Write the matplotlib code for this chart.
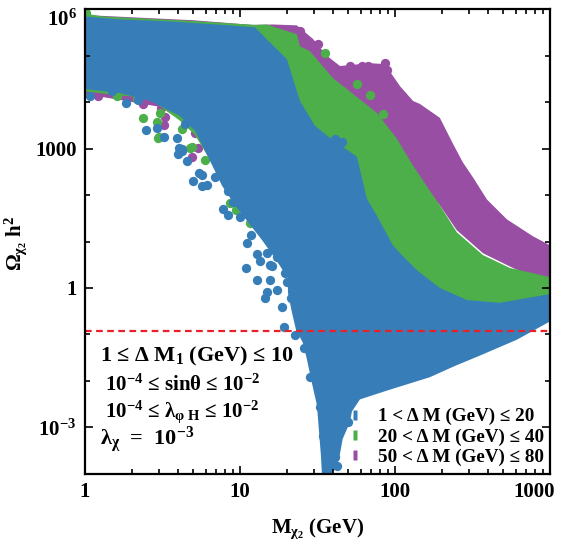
import matplotlib
matplotlib.use("Agg")
import matplotlib.pyplot as plt
from matplotlib.lines import Line2D
from matplotlib.ticker import FixedLocator, FixedFormatter, NullFormatter
from matplotlib.transforms import ScaledTranslation

plt.rcParams["font.family"] = ["Liberation Serif", "DejaVu Serif"]
plt.rcParams["font.weight"] = "bold"
plt.rcParams["axes.labelweight"] = "bold"
plt.rcParams["mathtext.fontset"] = "custom"
plt.rcParams["mathtext.rm"] = "Liberation Serif:bold"
plt.rcParams["mathtext.it"] = "Liberation Serif:bold"
plt.rcParams["mathtext.bf"] = "Liberation Serif:bold"

blue = "#377eb8"
green = "#4daf4a"
purple = "#984ea3"

# dense cores of each scan, outline (M in GeV, Omega h^2)
blue_core_m = [1, 1.68, 3.53, 8.6, 12.5, 14.9, 20.1, 24.4, 30.5, 38.1, 56.9, 65.9, 76.5, 97, 108, 139, 195,
               292, 476, 1000, 1000, 612, 353, 244, 168, 93, 59.5, 52.8, 51.3, 46, 43.5, 39.2, 33.8, 33.3,
               32.3, 31.4, 29.1, 27, 25.5, 23, 21.6, 20.4, 20.4, 16.8, 13.9, 11.3, 9.3, 7.65, 6.4, 5.13,
               4.1, 2.63, 1.68, 1]
blue_core_om = [7.0e5, 6.05e5, 5.48e5, 4.5e5, 4.08e5, 2.26e5, 8.4e4, 1.06e4, 3100, 1700, 670, 84, 36, 8.3,
                5.6, 2.4, 1.0, 0.55, 0.48, 0.74, 0.19, 0.077, 0.035, 0.021, 0.012, 0.0065, 0.004, 0.0022,
                0.0013, 0.00056, 0.0002, 0.0001, 0.0001, 0.00025, 0.0009, 0.003, 0.0092, 0.03, 0.066,
                0.126, 0.31, 0.8, 1.64, 4.4, 10.7, 25.9, 60, 161, 551, 2420, 5060, 1.06e4, 1.57e4, 1.92e4]

green_core_m = [1, 1.3, 5, 12.5, 14.9, 23.3, 24.4, 28.3, 39.8, 56.9, 76.5, 103, 131, 161, 195, 251, 370, 552,
                1000, 1000, 400, 150, 80, 40, 20, 10, 6.4, 5.1, 4.1, 2.6, 1]
green_core_om = [8.1e5, 7.0e5, 5.6e5, 4.6e5, 4.7e5, 2.9e5, 1.6e5, 1.25e5, 3.3e4, 1.29e4, 5870, 1630, 430, 153,
                 60, 15.8, 5.1, 2.7, 1.72, 0.5, 0.4, 1.0, 10, 300, 1000, 80, 600, 2000, 4000, 1.2e4, 1.7e4]

purple_core_m = [1, 5, 12, 16.3, 23.3, 29.6, 36.4, 44.2, 69, 86, 108, 131, 145, 195, 237, 275, 319, 393, 528,
                 777, 1000, 1000, 700, 552, 370, 251, 195, 100, 30, 8, 5, 3, 1]
purple_core_om = [7.5e5, 5.8e5, 4.6e5, 4.7e5, 4.5e5, 2.3e5, 1e5, 6e4, 6.9e4, 6.6e4, 2.2e4, 1.06e4, 9150, 4600,
                  1270, 500, 240, 80, 30, 13, 8.3, 1.5, 2.0, 2.9, 5.6, 17.5, 60, 800, 3000, 1000, 3000, 8000,
                  1.5e4]

# isolated points outside the cores
blue_pts_m = [1.08, 1.84, 2.48, 2.91, 3.23, 3.92, 4.22, 4.04, 4.42, 3.43, 4.97, 5.44, 4.55, 4.22, 5.69, 6.12,
              7.77, 8.37, 10, 11.1, 12.9, 13.5, 10.9, 12.9, 14.9, 14.5, 15.6, 17.3, 20.1, 18.7, 19.2, 22.6,
              28.3, 32.8, 35.3, 34.3, 38.1, 36.4, 37, 41, 42.3, 49.7, 47.6, 38.1, 45.5, 41.0, 1.5, 2.2,
              6.9, 9.0, 11.8, 16.0, 21.5, 26.0, 30.0,
              3.98, 5.69, 14.9, 17.3, 15.6, 19.5, 6.4, 7.4, 8.0, 9.5, 8.4]
blue_pts_om = [1.36e4, 9600, 2540, 2800, 1800, 1710, 995, 1050, 3410, 9150, 205, 305, 551, 902, 153, 161,
               49, 36.6, 33, 9.2, 5.35, 3.79, 2.68, 1.48, 0.82, 0.61, 1.48, 0.91, 1.34, 0.39, 0.146, 0.099,
               0.0124, 0.0028, 0.0017, 0.00064, 0.00056, 0.00039, 0.00021, 0.00023, 0.000147, 0.00129,
               0.0024, 0.00135, 1400, 1650, 1.7e4, 1.1e4, 240, 70, 14, 3.0, 0.6, 0.05, 0.02,
               760, 270, 5.6, 4.6, 3.1, 2.1, 900, 610, 390, 240, 125]

green_pts_m = [1.31, 1.61, 2.16, 2.37, 2.91, 3.0, 3.05, 2.96, 4.22, 4.76, 4.9, 6.22, 5.94, 7.43, 8.62, 8.62,
               11.6, 35.3, 56.9, 69, 83.7, 45.5, 1.03, 1.41, 2.75, 3.92, 4.76, 6.7, 1.02,
               9.5, 13.5, 18.1, 23.3]
green_pts_om = [2.01e4, 1.36e4, 1.17e4, 4590, 3770, 1800, 5870, 1710, 2670, 1050, 1100, 1050, 579, 430, 177,
                66, 24.7, 1.13e5, 2.45e4, 1.43e4, 5590, 1.74e4, 2.8e4, 1.92e4, 4.2e4, 3.3e4, 5.4e4, 4e4, 8.5e5,
                47, 89, 54, 15]

purple_pts_m = [1.21, 2.37, 3.09, 3.28, 3.23, 4.9, 5.13, 6.22, 5.36, 10.3, 11.6, 24.4, 31.9, 36.4, 51.3,
                61.2, 66.9, 86.1, 88.7, 65.9, 1.25, 2.1, 3.53, 5.52, 7.1, 21.6, 9.7]
purple_pts_om = [1.36e4, 9150, 7510, 4820, 3250, 671, 2190, 1890, 1050, 76.6, 54.2, 3.35e5, 1.76e5, 6.9e4,
                 5.96e4, 5.96e4, 5.96e4, 6.9e4, 4.89e4, 4.02e4, 2.8e4, 3.1e4, 1.92e4, 2.8e4, 1.5e4, 47, 430]

relic = 0.12
labels = ["1 < Δ M (GeV) ≤ 20", "20 < Δ M (GeV) ≤ 40", "50 < Δ M (GeV) ≤ 80"]

fig = plt.figure(figsize=(5.74, 5.44), dpi=100)
ax = fig.add_axes([0.148, 0.129, 0.810, 0.854])
ax.set_xscale("log")
ax.set_yscale("log")

ms = 45
ax.fill(purple_core_m, purple_core_om, color=purple, lw=0)
ax.scatter(purple_pts_m, purple_pts_om, s=ms, color=purple, lw=0)
ax.fill(green_core_m, green_core_om, color=green, lw=0)
ax.scatter(green_pts_m, green_pts_om, s=ms, color=green, lw=0)
ax.fill(blue_core_m, blue_core_om, color=blue, lw=0)
ax.scatter(blue_pts_m, blue_pts_om, s=ms, color=blue, lw=0)

ax.axhline(relic, color="#e8202a", ls=(0, (3, 2)), lw=1.6)

ax.set_xlim(1, 1000)
ax.set_ylim(1e-4, 1e6)

ax.xaxis.set_major_locator(FixedLocator([1, 10, 100, 1000]))
ax.xaxis.set_major_formatter(FixedFormatter(["1", "10", "100", "1000"]))
xminor = [k * 10 ** d for d in range(3) for k in range(2, 10)]
ax.xaxis.set_minor_locator(FixedLocator(xminor))
ax.xaxis.set_minor_formatter(NullFormatter())
ax.yaxis.set_major_locator(FixedLocator([1e-3, 1, 1e3, 1e6]))
ax.yaxis.set_major_formatter(FixedFormatter([r"$\mathbf{10^{-3}}$", "1", "1000", r"$\mathbf{10^{6}}$"]))
ax.yaxis.set_minor_locator(FixedLocator([1e-2, 1e-1, 10, 100, 1e4, 1e5]))
ax.yaxis.set_minor_formatter(NullFormatter())

ax.tick_params(which="both", direction="in", top=True, right=True, width=1.2, labelsize=15)
ax.tick_params(which="major", length=6, pad=6)
ax.tick_params(which="minor", length=3.5)
for sp in ax.spines.values():
    sp.set_linewidth(1.6)

# keep the end labels inside the figure, as in the original
xl = ax.get_xticklabels()[-1]
xl.set_transform(xl.get_transform() + ScaledTranslation(-0.16, 0, fig.dpi_scale_trans))
yl = ax.get_yticklabels()[-1]
yl.set_transform(yl.get_transform() + ScaledTranslation(0, -0.08, fig.dpi_scale_trans))

ax.set_xlabel(r"M$_{\chi_2}$ (GeV)", fontsize=15, labelpad=10)
ax.set_ylabel(r"$\Omega_{\chi_2}$ h$^2$", fontsize=15)
ax.yaxis.set_label_coords(-0.12, 0.497)

ax.text(0.032, 0.252, r"1 ≤ Δ M$_1$ (GeV) ≤ 10", transform=ax.transAxes, fontsize=16, va="center")
ax.text(0.043, 0.191, r"10$^{-4}$ ≤ sinθ ≤ 10$^{-2}$", transform=ax.transAxes, fontsize=15, va="center")
ax.text(0.043, 0.133, r"10$^{-4}$ ≤ λ$_{\varphi\ \mathrm{H}}$ ≤ 10$^{-2}$", transform=ax.transAxes,
        fontsize=15, va="center")
ax.text(0.032, 0.073, r"λ$_{\chi}$  =  10$^{-3}$", transform=ax.transAxes, fontsize=16, va="center")

bar = [(-0.35, -1), (0.35, -1), (0.35, 1), (-0.35, 1)]
handles = [Line2D([], [], ls="none", marker=bar, markersize=7, color=c, mec="none")
           for c in (blue, green, purple)]
ax.legend(handles, labels, loc="lower right", frameon=False, fontsize=13.8, handlelength=0.6,
          handletextpad=0.9, labelspacing=0.15, borderaxespad=0.2, bbox_to_anchor=(1.012, -0.008))

fig.savefig("out.png", dpi=100)
